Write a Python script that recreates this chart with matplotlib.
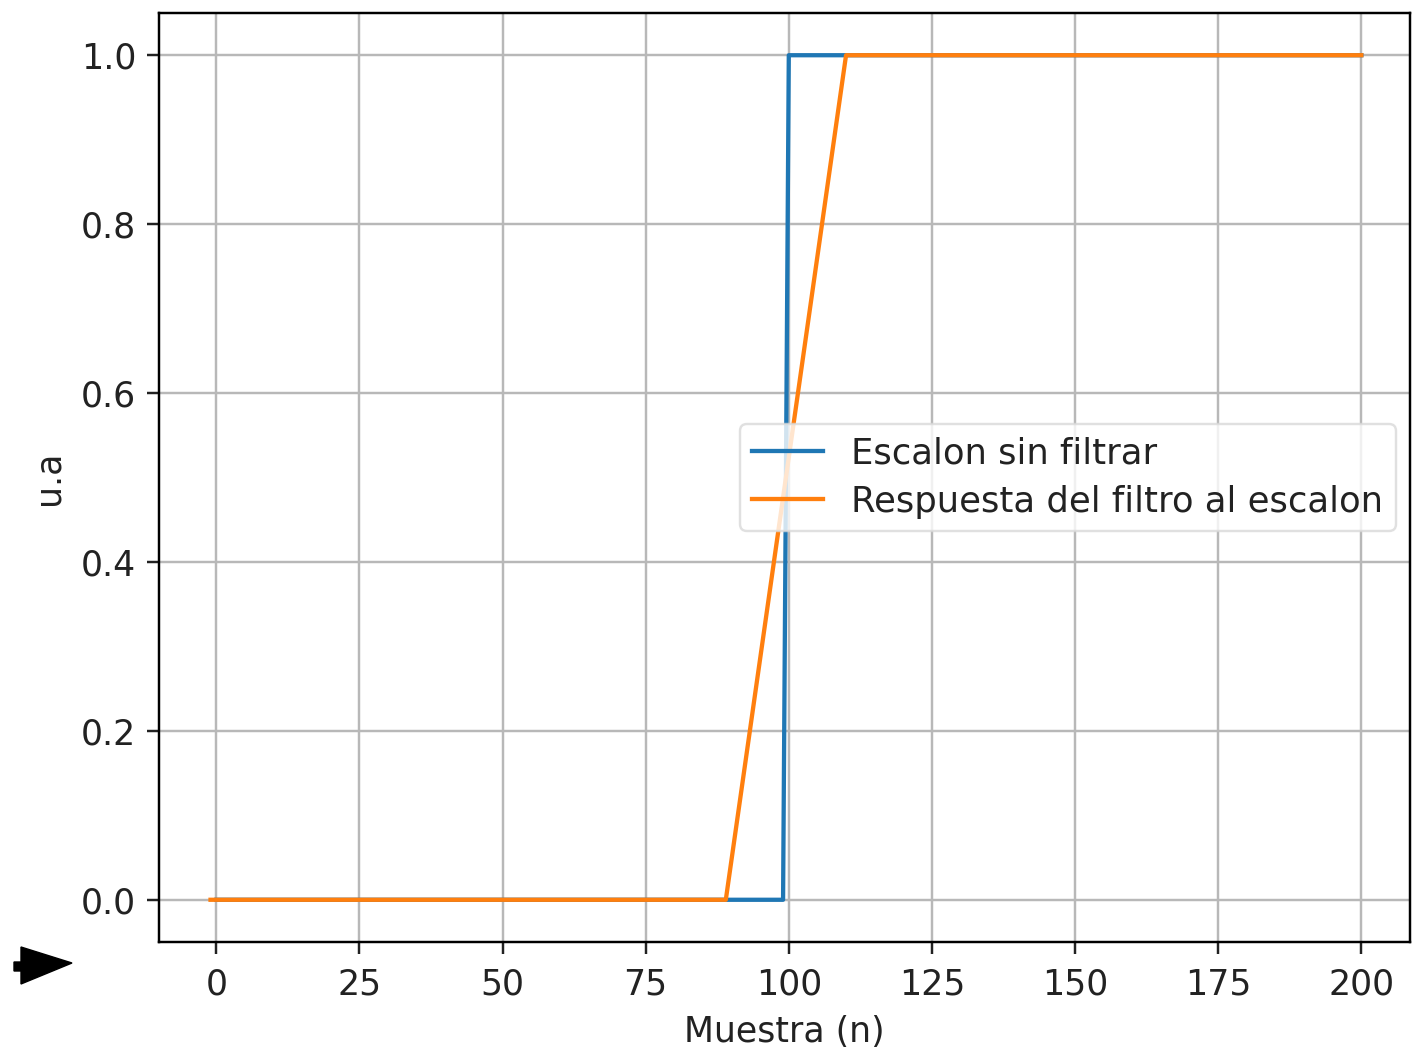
import matplotlib
matplotlib.use("Agg")
import matplotlib.pyplot as plt
from matplotlib.patches import Polygon

# Data (breakpoints)
step_n = [0, 99, 100, 200]
step_val = [0.0, 0.0, 1.0, 1.0]
resp_n = [-1, 89, 110, 200]
resp_val = [0.0, 0.0, 1.0, 1.0]

labels = ["Escalon sin filtrar", "Respuesta del filtro al escalon"]
xticks = [0, 25, 50, 75, 100, 125, 150, 175, 200]
yticks = [0.0, 0.2, 0.4, 0.6, 0.8, 1.0]

S = 2.2
FS = 25
plt.rcParams['font.family'] = ['DejaVu Sans']
plt.rcParams['font.size'] = FS

fig = plt.figure(figsize=(14.15, 10.54), dpi=100)
ax = fig.add_axes([159/1415, 1 - 942/1054, (1410-159)/1415, (942-13)/1054])

ax.plot(step_n, step_val, color='#1f77b4', lw=1.4*S, label=labels[0])
ax.plot(resp_n, resp_val, color='#ff7f0e', lw=1.4*S, label=labels[1])

ax.set_xlim(-10, 208.5)
ax.set_ylim(-0.05, 1.05)
ax.set_xticks(xticks)
ax.set_yticks(yticks)
ax.set_yticklabels([f"{v:.1f}" for v in yticks])
ax.grid(True, color='#b8b8b8', lw=0.8*S)
ax.set_axisbelow(True)
for s in ax.spines.values():
    s.set_linewidth(0.8*S)
ax.tick_params(width=0.8*S, length=4*S, pad=3.5*S, labelsize=FS, colors='#222222')
ax.tick_params(axis='x', pad=3.5*S + 2)
ax.set_xlabel("Muestra (n)", fontsize=FS, labelpad=3*S + 3, color='#222222')
ax.set_ylabel("u.a", fontsize=FS, labelpad=5*S, color='#222222')

leg = ax.legend(loc='center right', fontsize=FS + 0.5, framealpha=0.8,
                edgecolor='0.85', fancybox=True, borderaxespad=0.4,
                handlelength=2.0, borderpad=0.35, labelspacing=0.4)
leg.get_frame().set_linewidth(0.8*S)
for t in leg.get_texts():
    t.set_color('#222222')

# decorative black arrow at bottom-left
W, H = 1415, 1054
pts = [(14, 962), (21, 962), (21, 947), (72, 963), (21, 984), (21, 971), (14, 971)]
fig.patches.append(Polygon([(x/W, 1 - y/H) for x, y in pts], closed=True,
                           transform=fig.transFigure, facecolor='black',
                           edgecolor='black', figure=fig))

fig.savefig("out.png", dpi=100)
